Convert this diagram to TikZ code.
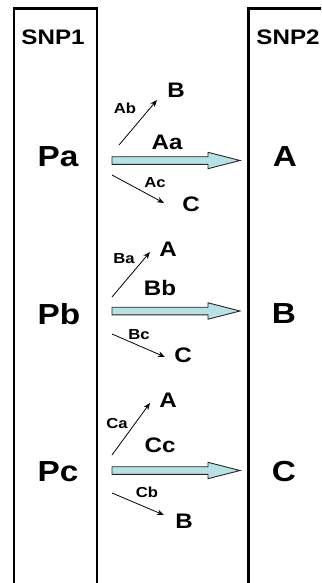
\documentclass[tikz,border=0pt]{standalone}
\usepackage{fontspec}
\setmainfont{Liberation Sans}[FakeStretch=1.15]
\usetikzlibrary{arrows.meta}
\definecolor{arrowfill}{RGB}{183,225,229}
\begin{document}
\begin{tikzpicture}[x=1pt,y=-1pt,
  box/.style={line width=2.9pt},
  big/.style={font=\bfseries\fontsize{29}{30}\selectfont,inner sep=0pt},
  head/.style={font=\bfseries\fontsize{21}{22}\selectfont,inner sep=0pt},
  mid/.style={font=\bfseries\fontsize{21}{22}\selectfont,inner sep=0pt},
  small/.style={font=\bfseries\fontsize{14.5}{15}\selectfont,inner sep=0pt},
  thin/.style={line width=0.8pt,-{Stealth[length=7pt,width=5.5pt]}},
  fat/.style={draw=black!85,line width=0.9pt,fill=arrowfill},
  pics/fatarrow/.style={code={
    \path[fat] (0,-3.8) -- (96,-3.8) -- (96,-8.2) -- (128,0) -- (96,8.2) -- (96,3.8) -- (0,3.8) -- cycle;
  }}]
\useasboundingbox (0,0) rectangle (321,583);
\clip (0,0) rectangle (321,583);

% the two SNP columns
\draw[box] (14,8.7) rectangle (97,600);
\draw[box] (248.5,8.7) rectangle (340,600);
\node[head] (snp1) at (53,37) {SNP1};
\node[head] (snp2) at (288,37) {SNP2};

% haplotypes at SNP1 and alleles at SNP2
\node[big] (Pa) at (58,157) {Pa};
\node[big] (Pb) at (59,314) {Pb};
\node[big] (Pc) at (58,472) {Pc};
\node[big] (A2) at (285,157) {A};
\node[big] (B2) at (284,314) {B};
\node[big] (C2) at (284,472) {C};

% block a
\pic (fa) at (112,160.5) {fatarrow};
\node[mid] (Aa) at (167,142.5) {Aa};
\node[mid] (aB) at (176,90) {B};
\node[mid] (aC) at (191,204) {C};
\node[small] (Ab) at (125,108.5) {Ab};
\node[small] (Ac) at (155,183) {Ac};
\coordinate (ab0) at (119,145); \coordinate (ab1) at (157,100);
\coordinate (ac0) at (112,175); \coordinate (ac1) at (164,203);
\draw[thin] (ab0) -- (ab1);
\draw[thin] (ac0) -- (ac1);

% block b
\pic (fb) at (112,311) {fatarrow};
\node[mid] (Bb) at (160,288) {Bb};
\node[mid] (bA) at (168,249) {A};
\node[mid] (bC) at (183,355) {C};
\node[small] (Ba) at (124,259) {Ba};
\node[small] (Bc) at (139,335) {Bc};
\coordinate (ba0) at (112,297); \coordinate (ba1) at (150,252);
\coordinate (bc0) at (112,334); \coordinate (bc1) at (165,357);
\draw[thin] (ba0) -- (ba1);
\draw[thin] (bc0) -- (bc1);

% block c
\pic (fc) at (112,470.5) {fatarrow};
\node[mid] (Cc) at (160,445) {Cc};
\node[mid] (cA) at (168,400) {A};
\node[mid] (cB) at (184,521) {B};
\node[small] (Ca) at (117,424) {Ca};
\node[small] (Cb) at (147,492) {Cb};
\coordinate (ca0) at (112,455); \coordinate (ca1) at (150,403);
\coordinate (cb0) at (112,493); \coordinate (cb1) at (164,515);
\draw[thin] (ca0) -- (ca1);
\draw[thin] (cb0) -- (cb1);
\end{tikzpicture}
\end{document}
